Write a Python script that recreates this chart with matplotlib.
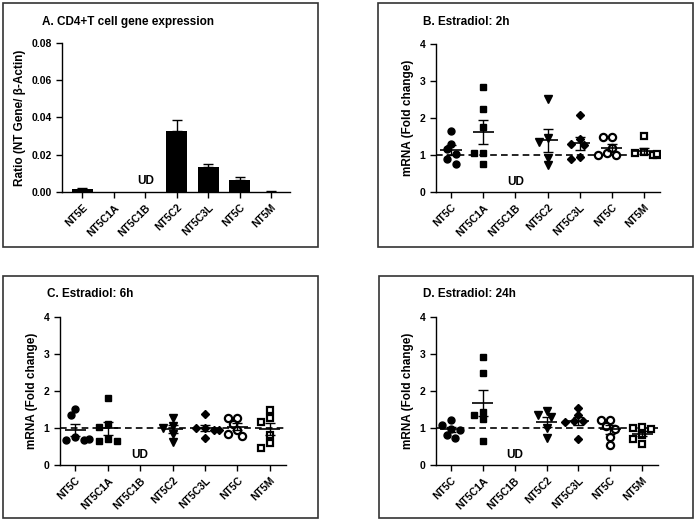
import numpy as np
import matplotlib
matplotlib.use("Agg")
import matplotlib.pyplot as plt
from matplotlib.patches import Rectangle

plt.rcParams['font.family'] = ['Liberation Sans', 'DejaVu Sans']
plt.rcParams['font.weight'] = 'bold'

# panel A: ratio to beta-actin
genes_a = ["NT5E", "NT5C1A", "NT5C1B", "NT5C2", "NT5C3L", "NT5C", "NT5M"]
ratio_a = [0.0015, 0.0, 0.0, 0.0325, 0.0133, 0.0065, 0.0002]
ratio_err_a = [0.0004, 0.0, 0.0, 0.0063, 0.0018, 0.0013, 0.0001]

# panels B-D: fold change, per gene (NT5C1B undetected)
genes = ["NT5C", "NT5C1A", "NT5C1B", "NT5C2", "NT5C3L", "NT5C", "NT5M"]

fold_2h = [
    [1.65, 1.30, 1.15, 1.03, 0.90, 0.77],
    [2.83, 2.25, 1.77, 1.05, 1.05, 0.77],
    [],
    [2.52, 1.45, 1.35, 0.93, 0.73],
    [2.07, 1.42, 1.30, 1.27, 0.95, 0.90],
    [1.48, 1.48, 1.20, 1.05, 1.00, 1.00],
    [1.50, 1.08, 1.05, 1.00, 1.00, 1.03],
]
fold_6h = [
    [1.51, 1.35, 0.76, 0.67, 0.67, 0.70],
    [1.80, 1.10, 1.03, 0.70, 0.65, 0.65],
    [],
    [1.28, 1.05, 1.00, 0.85, 0.63],
    [1.37, 1.00, 1.00, 0.95, 0.95, 0.72],
    [1.28, 1.28, 1.10, 0.95, 0.85, 0.78],
    [1.50, 1.28, 1.15, 0.82, 0.60, 0.47],
]
fold_24h = [
    [1.22, 1.08, 0.98, 0.95, 0.82, 0.72],
    [2.92, 2.49, 1.44, 1.35, 1.25, 0.65],
    [],
    [1.45, 1.35, 1.30, 1.00, 0.72],
    [1.55, 1.35, 1.20, 1.18, 1.15, 0.70],
    [1.22, 1.22, 1.05, 0.97, 0.75, 0.55],
    [1.02, 1.00, 0.97, 0.82, 0.70, 0.58],
]

markers = [("o", True), ("s", True), ("o", True), ("v", True),
           ("D", True), ("o", False), ("s", False)]
marker_sizes = [5, 4.6, 5, 5.5, 4.2, 5.2, 5.0]

W, H = 697, 524


def fx(px):
    return px / W


def fy(py):
    return 1 - py / H


def swarm(vals, ypx, xpx, diam=7.0, step=0.14):
    placed = []
    offs = []
    cands = [0, -step, step, -2 * step, 2 * step, -3 * step, 3 * step]
    for v in vals:
        for c in cands:
            ok = True
            for (pc, pv) in placed:
                d = np.hypot((c - pc) * xpx, (v - pv) * ypx)
                if d < diam:
                    ok = False
                    break
            if ok:
                break
        placed.append((c, v))
        offs.append(c)
    return offs


def style_axes(ax, labels):
    for s in ["top", "right"]:
        ax.spines[s].set_visible(False)
    for s in ["left", "bottom"]:
        ax.spines[s].set_linewidth(1.0)
    ax.tick_params(direction="out", length=4, width=1.0, labelsize=7.5)
    ax.set_xticks(range(len(labels)))
    ax.set_xticklabels(labels, rotation=45, ha="right", rotation_mode="anchor",
                       fontsize=7.5, fontweight="bold")
    for t in ax.get_yticklabels():
        t.set_fontweight("bold")


fig = plt.figure(figsize=(W / 100, H / 100), dpi=100)

# panel frames
for (x0, y0, x1, y1) in [(3, 3, 318, 247), (378, 3, 693, 247),
                         (3, 276, 318, 518), (379, 276, 693, 518)]:
    fig.patches.append(Rectangle((fx(x0), fy(y1)), fx(x1 - x0), (y1 - y0) / H,
                                 transform=fig.transFigure, fill=False,
                                 edgecolor="#333333", linewidth=1.2))

# Panel A
axA = fig.add_axes([fx(62), fy(192), fx(228), 149 / H])
xa = np.arange(len(genes_a))
axA.bar(xa, ratio_a, width=0.67, color="black")
for i, (v, e) in enumerate(zip(ratio_a, ratio_err_a)):
    if e > 0:
        axA.errorbar(i, v, yerr=[[0], [e]], fmt="none", ecolor="black",
                     elinewidth=1.0, capsize=3.5, capthick=1.0)
axA.set_xlim(-0.65, 6.6)
axA.set_ylim(0, 0.08)
axA.set_yticks([0, 0.02, 0.04, 0.06, 0.08])
axA.set_yticklabels(["0.00", "0.02", "0.04", "0.06", "0.08"])
axA.text(2, 0.0057, "UD", ha="center", va="center", fontsize=8.5, fontweight="bold")
axA.set_ylabel("Ratio (NT Gene/ β-Actin)", fontsize=8.5, fontweight="bold")
style_axes(axA, genes_a)
fig.text(fx(42), fy(22), "A. CD4+T cell gene expression", fontsize=8.5,
         fontweight="bold", va="center")

panels = [
    ("B. Estradiol: 2h", fold_2h, [fx(436), fy(192), fx(224), 148 / H], (423, 22)),
    ("C. Estradiol: 6h", fold_6h, [fx(60), fy(465), fx(226), 148 / H], (47, 294)),
    ("D. Estradiol: 24h", fold_24h, [fx(436), fy(465), fx(222), 148 / H], (423, 294)),
]

for title, data, rect, tpos in panels:
    ax = fig.add_axes(rect)
    ax.set_xlim(-0.47, 6.5)
    ax.set_ylim(0, 4)
    ax.set_yticks([0, 1, 2, 3, 4])
    ax.axhline(1, color="black", lw=1.2, ls=(0, (4, 2.5)), zorder=1)
    xpx = rect[2] * W / 6.97
    ypx = rect[3] * H / 4
    for i, vals in enumerate(data):
        if not vals:
            ax.text(i, 0.28, "UD", ha="center", va="center", fontsize=8.5,
                    fontweight="bold")
            continue
        vals = np.array(vals)
        offs = swarm(vals, ypx, xpx)
        m, filled = markers[i]
        ax.plot(i + np.array(offs), vals, ls="none", marker=m,
                markersize=marker_sizes[i],
                markerfacecolor="black" if filled else "white",
                markeredgecolor="black",
                markeredgewidth=1.0 if filled else 1.6, zorder=3)
        mean = vals.mean()
        sem = vals.std(ddof=1) / np.sqrt(len(vals))
        ax.hlines(mean, i - 0.33, i + 0.33, color="black", lw=1.2, zorder=4)
        ax.errorbar(i, mean, yerr=sem, fmt="none", ecolor="black",
                    elinewidth=1.0, capsize=3.8, capthick=1.0, zorder=4)
    ax.set_ylabel("mRNA (Fold change)", fontsize=8.5, fontweight="bold")
    style_axes(ax, genes)
    fig.text(fx(tpos[0]), fy(tpos[1]), title, fontsize=8.5, fontweight="bold",
             va="center")

fig.savefig("out.png", dpi=100)
